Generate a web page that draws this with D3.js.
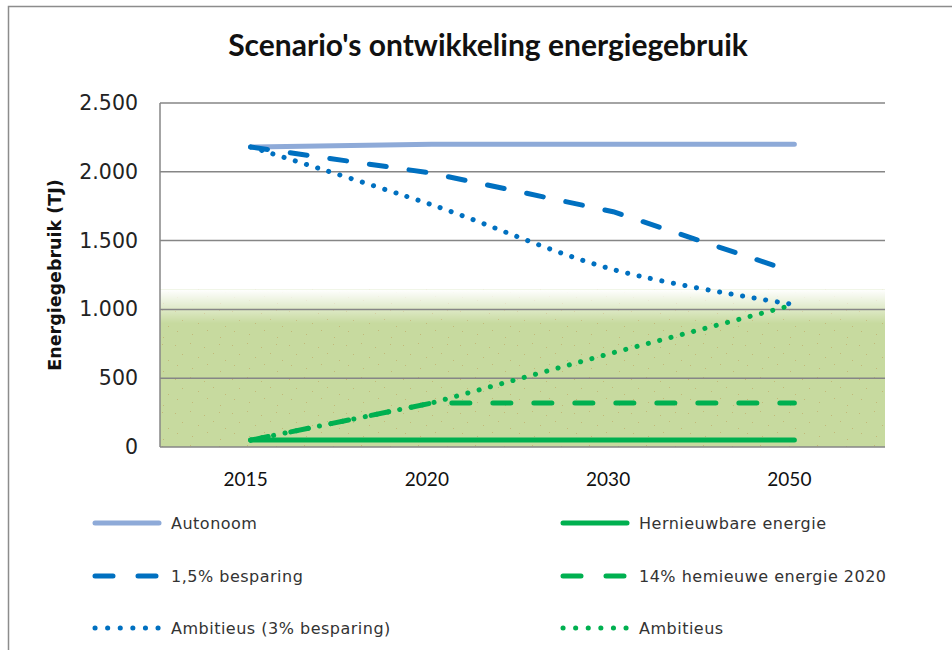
<!DOCTYPE html>
<html>
<head>
<meta charset="utf-8">
<script src="https://cdn.jsdelivr.net/npm/d3@7"></script>
<style>
  body { margin: 0; background: #fff; }
  svg { display: block; }
</style>
</head>
<body>
<div class="container"></div>
<script>
// data
const categories = ['2015', '2020', '2030', '2050'];
const autonoom = [2180, 2200, 2200, 2200];
const hernieuwbaar = [50, 50, 50, 50];
const besparing15 = [2180, 1990, 1710, 1270];
const hernieuw14 = [50, 320, 320, 320];
const ambitieus3 = [2180, 1760, 1290, 1035];
const ambitieusGroen = [50, 320, 685, 1035];
const yTicks = [0, 500, 1000, 1500, 2000, 2500];
const targetZone = [0, 1000];

const series = [
  { name: 'Autonoom', values: autonoom, color: '#8eaad8', dash: null, w: 5, col: 0, row: 0 },
  { name: 'Hernieuwbare energie', values: hernieuwbaar, color: '#00b050', dash: null, w: 5, col: 1, row: 0 },
  { name: '1,5% besparing', values: besparing15, color: '#0070c0', dash: '17,23', w: 5, col: 0, row: 1 },
  { name: '14% hemieuwe energie 2020', values: hernieuw14, color: '#00b050', dash: '18,23', w: 5, col: 1, row: 1 },
  { name: 'Ambitieus (3% besparing)', values: ambitieus3, color: '#0070c0', dash: '0.1,11.6', w: 5, col: 0, row: 2, smooth: true },
  { name: 'Ambitieus', values: ambitieusGroen, color: '#00b050', dash: '0.1,11.6', w: 5, col: 1, row: 2 }
];

const width = 952;
const height = 650;
const plot = { left: 160, right: 885, top: 103, bottom: 447 };

const svg = d3
  .select('.container')
  .append('svg')
  .attr('width', width)
  .attr('height', height);

const defs = svg.append('defs');

// faint dotted texture of the green zone
const pattern = defs
  .append('pattern')
  .attr('id', 'dots')
  .attr('patternUnits', 'userSpaceOnUse')
  .attr('width', 57)
  .attr('height', 34);
pattern.append('rect').attr('width', 57).attr('height', 34).attr('fill', '#c7da9f');
[[4, 5], [19, 3], [33, 7], [48, 4], [11, 14], [27, 17], [42, 13], [54, 20], [6, 25], [21, 28], [36, 24], [49, 31]].forEach(p => {
  pattern
    .append('rect')
    .attr('x', p[0])
    .attr('y', p[1])
    .attr('width', 1)
    .attr('height', 1)
    .attr('fill', '#c2b878');
});

const fade = defs
  .append('linearGradient')
  .attr('id', 'fade')
  .attr('x1', 0)
  .attr('y1', 0)
  .attr('x2', 0)
  .attr('y2', 1);
fade.append('stop').attr('offset', '0%').attr('stop-color', '#fff').attr('stop-opacity', 1);
fade.append('stop').attr('offset', '100%').attr('stop-color', '#fff').attr('stop-opacity', 0);

// outer chart border
svg
  .append('rect')
  .attr('x', 8.5)
  .attr('y', 6.5)
  .attr('width', 960)
  .attr('height', 700)
  .attr('fill', 'none')
  .attr('stroke', '#8c8c8c')
  .attr('stroke-width', 1.5);

svg
  .append('text')
  .attr('x', 488)
  .attr('y', 56)
  .attr('text-anchor', 'middle')
  .style('font-family', 'Lato, sans-serif')
  .style('font-weight', 'bold')
  .style('font-size', '30px')
  .attr('fill', '#111')
  .text("Scenario's ontwikkeling energiegebruik");

const x = d3
  .scaleBand()
  .domain(categories)
  .range([plot.left, plot.right]);
const y = d3
  .scaleLinear()
  .domain([0, 2500])
  .range([plot.bottom, plot.top]);

const cx = c => x(c) + x.bandwidth() / 2;

const graph = svg.append('g').attr('class', 'graph');

// green zone (target area) with a soft top edge
graph
  .append('rect')
  .attr('x', plot.left)
  .attr('y', y(targetZone[1]) - 20)
  .attr('width', plot.right - plot.left)
  .attr('height', y(targetZone[0]) - y(targetZone[1]) + 20)
  .attr('fill', 'url(#dots)');
graph
  .append('rect')
  .attr('x', plot.left)
  .attr('y', y(targetZone[1]) - 20)
  .attr('width', plot.right - plot.left)
  .attr('height', 34)
  .attr('fill', 'url(#fade)');

// gridlines
graph
  .selectAll('.grid')
  .data(yTicks.filter(d => d > 0))
  .enter()
  .append('line')
  .attr('class', 'grid')
  .attr('x1', plot.left)
  .attr('x2', plot.right)
  .attr('y1', d => y(d))
  .attr('y2', d => y(d))
  .attr('stroke', '#868686')
  .attr('stroke-width', 1.5);

// axis lines
graph
  .append('line')
  .attr('x1', plot.left)
  .attr('x2', plot.left)
  .attr('y1', plot.top)
  .attr('y2', plot.bottom)
  .attr('stroke', '#868686')
  .attr('stroke-width', 1.5);
graph
  .append('line')
  .attr('x1', plot.left)
  .attr('x2', plot.right)
  .attr('y1', plot.bottom)
  .attr('y2', plot.bottom)
  .attr('stroke', '#868686')
  .attr('stroke-width', 1.5);

// y tick labels
const yAxis = graph
  .append('g')
  .attr('class', 'y-axis')
  .attr('transform', `translate(${plot.left}, 0)`)
  .call(d3.axisLeft(y).tickValues(yTicks).tickSize(0).tickPadding(22).tickFormat(d => d3.format(',')(d).replace(',', '.')));
yAxis.select('.domain').remove();
yAxis
  .selectAll('text')
  .style('font-family', '"DejaVu Sans", sans-serif')
  .style('font-size', '20.5px')
  .attr('fill', '#222');

// x tick labels
const xAxis = graph
  .append('g')
  .attr('class', 'x-axis')
  .attr('transform', `translate(0, ${plot.bottom})`)
  .call(d3.axisBottom(x).tickSize(0).tickPadding(26));
xAxis.select('.domain').remove();
xAxis
  .selectAll('text')
  .attr('dx', -5)
  .style('font-family', 'Lato, sans-serif')
  .style('font-size', '19px')
  .attr('fill', '#111');

graph
  .append('text')
  .attr('transform', `translate(61, ${(plot.top + plot.bottom) / 2}) rotate(-90)`)
  .attr('text-anchor', 'middle')
  .style('font-family', '"DejaVu Sans", sans-serif')
  .style('font-weight', 'bold')
  .style('font-size', '17.5px')
  .attr('fill', '#111')
  .text('Energiegebruik (TJ)');

// lines
series.forEach(s => {
  const line = d3
    .line()
    .x((d, i) => cx(categories[i]))
    .y(d => y(d))
    .curve(s.smooth ? d3.curveCatmullRom.alpha(0.5) : d3.curveLinear);
  graph
    .append('path')
    .datum(s.values)
    .attr('d', line)
    .attr('fill', 'none')
    .attr('stroke', s.color)
    .attr('stroke-width', s.w)
    .attr('stroke-linecap', 'round')
    .attr('stroke-linejoin', 'round')
    .attr('stroke-dasharray', s.dash);
});

// legend
const legendX = [93, 561];
const legendY = [523, 576, 628];
const legend = svg
  .append('g')
  .attr('class', 'legend')
  .selectAll('g')
  .data(series)
  .enter()
  .append('g')
  .attr('transform', d => `translate(${legendX[d.col]}, ${legendY[d.row]})`);

legend
  .append('line')
  .attr('x1', 2)
  .attr('x2', 66)
  .attr('stroke', d => d.color)
  .attr('stroke-width', d => d.w)
  .attr('stroke-linecap', 'round')
  .attr('stroke-dasharray', d => (d.dash ? (d.dash.startsWith('0.1') ? '0.1,12.5' : '18,25') : null));

legend
  .append('text')
  .attr('x', 78)
  .attr('dy', '0.35em')
  .style('font-family', '"DejaVu Sans", sans-serif')
  .style('font-size', '16px')
  .style('letter-spacing', '0.5px')
  .attr('fill', '#333')
  .text(d => d.name);
</script>
</body>
</html>
